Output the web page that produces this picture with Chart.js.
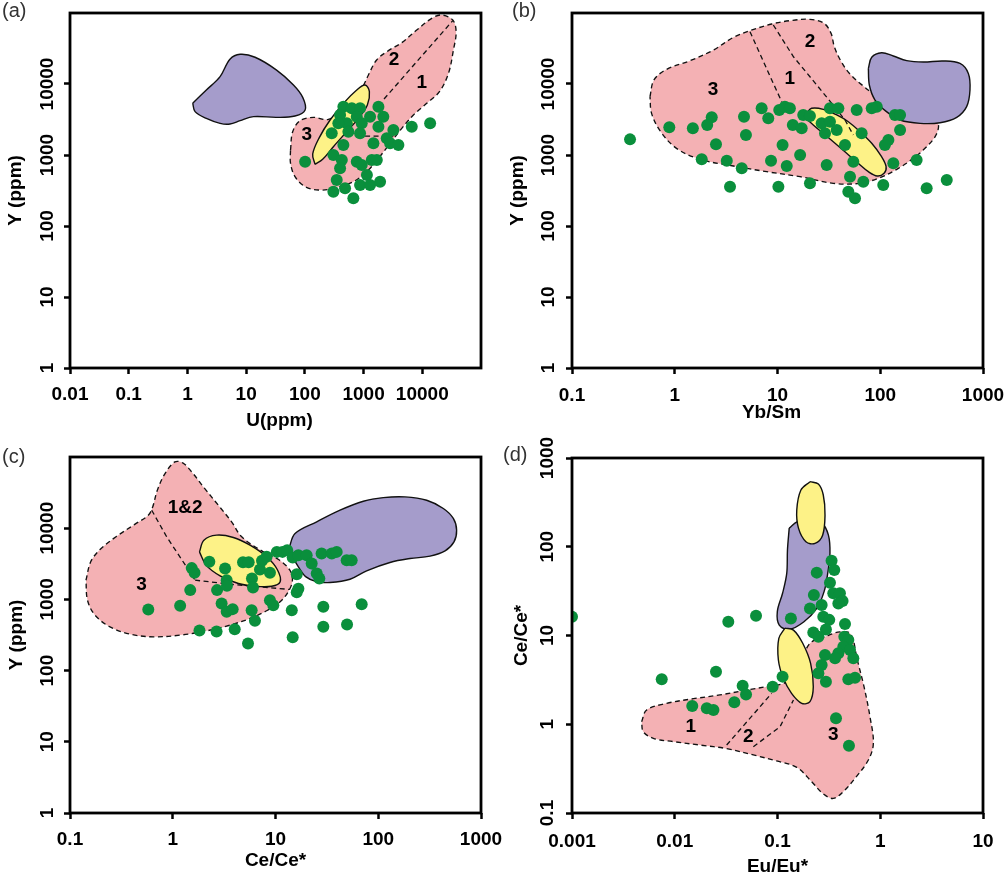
<!DOCTYPE html>
<html><head><meta charset="utf-8">
<script src="https://cdn.jsdelivr.net/npm/chart.js@4.4.1/dist/chart.umd.min.js"></script>
<style>
html,body{margin:0;padding:0;background:#fff;}
#wrap{position:relative;width:1008px;height:876px;overflow:hidden;background:#fff;}
canvas{position:absolute;left:0;top:0;}
</style></head><body>
<div id="wrap">
<canvas id="ca" width="1008" height="876"></canvas>
<canvas id="cb" width="1008" height="876"></canvas>
<canvas id="cc" width="1008" height="876"></canvas>
<canvas id="cd" width="1008" height="876"></canvas>
</div>
<script>
// ---------- tick values and labels ----------
const ppmTicks = [1, 10, 100, 1000, 10000];
const ppmTickLabels = ['1', '10', '100', '1000', '10000'];
const aXTicks = [0.01, 0.1, 1, 10, 100, 1000, 10000];
const aXTickLabels = ['0.01', '0.1', '1', '10', '100', '1000', '10000'];
const ratioTicks = [0.1, 1, 10, 100, 1000];
const ratioTickLabels = ['0.1', '1', '10', '100', '1000'];
const dXTicks = [0.001, 0.01, 0.1, 1, 10];
const dXTickLabels = ['0.001', '0.01', '0.1', '1', '10'];

// ---------- panel (a): U vs Y ----------
const aU = [101,453,630,871,398,766,518,372,1790,2170,1290,1790,931,287,551,871,453,306,426,398,766,931,1380,1680,1470,2480,3220,2830,3920,6620,13600,1140,349,484,306,871,1290,1910,670];
const aY = [805,4790,4550,4550,3660,3460,2790,2790,4790,3460,3460,2500,2790,2020,2130,2020,1380,1000,850,650,805,723,850,850,1460,1720,2250,1460,1380,2500,2790,523,444,340,304,378,378,421,246];
const aFieldPurple = [[1.23,5370],[2.1,8230],[3.6,12700],[5.3,22300],[7.9,26200],[14.2,23800],[33,15700],[64,9690],[92,6490],[101,4300],[68,3540],[33,3390],[13.3,3470],[7.9,3050],[5.3,2730],[3.6,2790],[2.1,3280],[1.35,4080]];
const aFieldPink = [[57,1175],[62,2130],[83,3050],[140,3390],[252,3180],[516,4800],[931,8690],[1210,13400],[1670,21800],[2650,29500],[4470,38200],[8050,57600],[14500,84100],[21500,93700],[33000,79700],[37700,54600],[33900,30100],[27900,14100],[19600,7800],[11900,5340],[7060,3660],[4470,2370],[2830,1460],[1790,897],[1130,582],[671,421],[306,339],[170,321],[101,358],[68,495],[57,763]];
const aFieldYellow = [[149,739],[136,1033],[177,1774],[269,3110],[453,5340],[765,8230],[1060,9680],[1256,7800],[1160,5060],[817,3280],[516,2130],[306,1310],[201,869]];
const aDividerA = [[2230,6150],[33000,78000]];
const aDividerB = [[1060,1850],[3220,1850]];
const aRegionNames = ['3', '2', '1'];
const aRegionX = [108, 3310, 9790];
const aRegionY = [1910, 21800, 10400];

// ---------- panel (b): Yb/Sm vs Y ----------
const bYbSm = [0.367,0.885,1.50,2.29,2.07,2.52,1.83,3.21,4.49,3.45,4.72,4.93,7.01,8.13,10.4,11.8,13.2,14.1,11.2,8.65,12.3,10.2,17.8,20.7,17.2,32.4,39.1,59.0,26.9,32.4,29.0,37.7,65.9,45.4,92.5,82.6,139,156,156,120,111,16.6,30.1,54.7,134,226,50.8,68.4,107,20.7,48.9,56.8,283,444];
const bY = [1660,2460,2380,3400,2650,1415,870,831,650,358,3460,1910,4550,3290,4300,4790,4550,2650,1380,831,700,358,3660,3540,2380,4550,4550,4300,2790,2940,2020,2250,2020,1380,4790,4550,3660,3660,2250,1630,1380,1000,723,805,764,850,495,421,378,399,304,246,340,444];
const bFieldPink = [[0.574,6630],[0.628,11400],[0.834,16100],[1.41,21300],[2.38,30100],[3.72,45400],[5.39,56400],[8.77,70000],[13.2,78000],[20.7,81400],[28.4,71500],[33.2,51700],[35.7,33600],[41.2,21300],[50.8,13800],[68.4,9370],[92.2,6780],[156,4540],[305,3660],[367,2730],[349,1910],[283,1310],[210,897],[145,629],[99.5,480],[63.5,399],[34.9,399],[16.6,495],[7.85,582],[3.72,700],[1.76,869],[1.04,1240],[0.73,2130],[0.595,3860]];
const bFieldPurple = [[76.6,16600],[82.6,23800],[103,27600],[134,24800],[181,21300],[262,20400],[411,21100],[597,19500],[720,14100],[747,8230],[693,4800],[555,3390],[382,2850],[244,2790],[156,3110],[115,4080],[88.9,5950],[78.3,9680]];
const bFieldYellow = [[19.2,3870],[21.5,4550],[27.9,4400],[37.7,3660],[48.9,2940],[63.5,2130],[82.6,1460],[103,946],[114,684],[109,552],[93.5,506],[76.6,582],[61.1,764],[47.1,1057],[36.3,1460],[27.9,2020],[22.3,2650],[19.2,3290]];
const bDividerA = [[5.40,54600],[8.79,11400],[11.0,5630]];
const bDividerB = [[9.10,67800],[14.3,24200],[24.1,9680],[33.7,5340],[45.4,3110],[54.7,1910]];
const bRegionNames = ['3', '1', '2'];
const bRegionX = [2.36, 13.2, 20.7];
const bRegionY = [8230, 12000, 39400];

// ---------- panel (c): Ce/Ce* vs Y ----------
const cCe = [0.578,1.18,1.48,1.53,1.63,2.27,1.82,2.70,2.67,2.99,3.35,3.83,4.01,3.23,3.35,3.37,4.83,5.48,5.90,6.04,5.86,6.31,5.40,7.06,7.39,8.20,8.83,8.83,9.52,10.3,11.7,13.0,14.4,14.7,14.7,16.7,16.1,16.7,16.1,20.1,22.5,25.2,26.7,28.1,29.2,29.2,35.3,39.4,49.3,55.1,49.7,69.0];
const cY = [722,813,1350,2750,2360,3370,366,1350,355,877,670,730,382,2720,1860,1550,3330,3330,1970,1470,706,500,241,2630,3480,3960,2360,976,830,4650,4650,4910,706,295,3880,4180,2260,1410,1260,4180,3190,2310,1970,4410,787,412,4410,4650,3550,3550,444,858];
const cFieldPink = [[0.143,1860],[0.159,3370],[0.196,5020],[0.285,7720],[0.430,11400],[0.578,15200],[0.638,19900],[0.708,34200],[0.841,58500],[1.05,85300],[1.25,82600],[1.53,61800],[2.01,37200],[2.78,21000],[3.74,12300],[4.69,7560],[7.62,4650],[10.7,3630],[13.8,2570],[14.6,1820],[13.3,1280],[11.1,925],[8.20,692],[5.65,540],[3.61,435],[2.14,362],[1.18,315],[0.647,298],[0.384,325],[0.245,412],[0.175,601],[0.148,976]];
const cFieldYellow = [[1.82,4650],[2.01,6790],[2.67,7980],[3.89,7400],[5.65,5770],[8.20,3960],[10.4,2630],[11.1,1770],[9.18,1530],[6.31,1530],[4.35,1670],[2.89,2140],[2.11,3030]];
const cFieldPurple = [[13.6,5350],[15.5,8420],[25.2,12300],[42.5,17900],[71.6,23900],[112,26900],[182,27500],[296,24700],[430,18900],[538,13700],[579,9370],[546,6430],[447,4810],[319,4050],[204,3750],[130,3300],[77.1,2520],[53.1,1920],[33.9,1730],[25.2,1770],[19.8,2070],[16.7,2870],[14.7,3960]];
const cDividerA = [[0.624,17900],[0.873,7560],[1.36,2870],[1.65,1860]];
const cDividerB = [[1.65,1860],[3.89,1620],[13.8,1380]];
const cRegionNames = ['1&2', '3'];
const cRegionX = [1.32, 0.498];
const cRegionY = [19500, 1585];

// ---------- panel (d): Eu/Eu* vs Ce/Ce* ----------
const dEu = [0.001,0.00747,0.0148,0.0205,0.0238,0.0252,0.0332,0.0380,0.0458,0.0494,0.0618,0.0897,0.112,0.135,0.241,0.226,0.207,0.336,0.357,0.324,0.349,0.405,0.430,0.391,0.269,0.279,0.319,0.296,0.223,0.250,0.454,0.447,0.489,0.437,0.391,0.508,0.547,0.363,0.290,0.269,0.250,0.296,0.489,0.568,0.371,0.496];
const dCe = [16.3,3.21,1.61,1.51,1.45,3.91,14.3,1.77,2.72,2.17,16.7,2.65,3.44,15.5,51.1,28.6,20.2,69.7,54.7,39.3,29.9,29.9,24.5,23.0,22.1,16.3,15.0,11.7,10.8,9.70,13.5,9.70,8.89,7.48,6.30,6.87,5.53,5.53,6.03,4.66,3.75,3.02,3.21,3.35,1.17,0.574];
const dFieldPink = [[0.00476,1.07],[0.00533,1.45],[0.00834,1.72],[0.0152,1.94],[0.0275,2.14],[0.0501,2.43],[0.0845,2.70],[0.123,3.02],[0.166,4.85],[0.207,8.17],[0.290,9.70],[0.405,11.0],[0.515,10.4],[0.598,5.30],[0.695,2.65],[0.794,1.22],[0.857,0.609],[0.766,0.395],[0.568,0.246],[0.437,0.174],[0.349,0.146],[0.279,0.164],[0.215,0.225],[0.154,0.327],[0.0982,0.386],[0.0582,0.451],[0.0320,0.531],[0.0176,0.583],[0.00968,0.637],[0.00619,0.694],[0.00494,0.824]];
const dFieldYellowTop = [[0.207,541],[0.169,436],[0.154,259],[0.160,162],[0.189,114],[0.232,109],[0.275,135],[0.290,228],[0.279,383],[0.250,509]];
const dFieldYellowLow = [[0.118,12.1],[0.103,9.29],[0.102,5.30],[0.114,3.29],[0.137,2.23],[0.172,1.72],[0.207,1.80],[0.223,2.65],[0.210,4.85],[0.176,8.17],[0.143,11.5]];
const dFieldPurple = [[0.130,162],[0.156,192],[0.207,204],[0.269,187],[0.313,135],[0.324,84.3],[0.308,50.1],[0.284,31.2],[0.241,20.2],[0.181,14.3],[0.130,11.7],[0.104,13.1],[0.0996,18.6],[0.112,29.9],[0.123,50.1],[0.125,91.8]];
const dDividerA = [[0.0320,0.583],[0.0877,2.23]];
const dDividerB = [[0.0582,0.558],[0.106,0.940],[0.143,1.88]];
const dRegionNames = ['1', '2', '3'];
const dRegionX = [0.0143, 0.0520, 0.349];
const dRegionY = [0.94, 0.724, 0.757];

// ---------- styling ----------
const PINK = '#f4b1b4', PURPLE = '#a59ccb', YELLOW = '#fdf287', GREEN = '#0a8f3c';
const FONT = '"Liberation Sans", Arial, Helvetica, sans-serif';
Chart.defaults.font.family = FONT;

function dots(xs, ys, clip) {
  return { data: xs.map((x, i) => ({ x: x, y: ys[i] })), showLine: false,
    pointRadius: 6, pointHoverRadius: 6, pointBackgroundColor: GREEN, backgroundColor: GREEN,
    pointBorderWidth: 0, borderWidth: 0, clip: clip };
}
function field(pts, color, dashed) {
  const d = pts.map(p => ({ x: p[0], y: p[1] }));
  d.push({ x: pts[0][0], y: pts[0][1] });
  return { data: d, showLine: true, fill: 'shape', backgroundColor: color,
    borderColor: '#111', borderWidth: dashed ? 1.35 : 1.4, borderDash: dashed ? [5, 3.5] : [],
    pointRadius: 0, pointHoverRadius: 0, tension: 0.35 };
}
function divider(pts) {
  return { data: pts.map(p => ({ x: p[0], y: p[1] })), showLine: true, fill: false,
    borderColor: '#111', borderWidth: 1.3, borderDash: [5, 3.5],
    pointRadius: 0, pointHoverRadius: 0, tension: 0 };
}
function logAxis(min, max, ticks, isX) {
  return {
    type: 'logarithmic', min: min, max: max,
    afterBuildTicks: s => { s.ticks = ticks.map(v => ({ value: v })); },
    afterFit: s => { if (isX) s.height = 10; else s.width = 10; },
    ticks: { display: false },
    grid: { display: true, drawOnChartArea: false, drawTicks: true, tickLength: 6, tickWidth: 2.5, tickColor: '#000', color: '#000' },
    border: { display: false },
    title: { display: false }
  };
}
function deco(cfg) {
  return {
    id: 'deco',
    afterDraw(chart) {
      const ctx = chart.ctx, xs = chart.scales.x, ys = chart.scales.y, a = chart.chartArea;
      ctx.save();
      ctx.lineWidth = 2.8; ctx.strokeStyle = '#000';
      ctx.strokeRect(a.left, a.top, a.right - a.left, a.bottom - a.top);
      ctx.fillStyle = '#000';
      ctx.font = 'bold 19px ' + FONT;
      ctx.textAlign = 'center'; ctx.textBaseline = 'alphabetic';
      cfg.xTicks.forEach((v, i) => ctx.fillText(cfg.xLabels[i], xs.getPixelForValue(v), a.bottom + cfg.xLabelOff));
      cfg.yTicks.forEach((v, i) => {
        ctx.save(); ctx.translate(a.left - cfg.yLabelOff, ys.getPixelForValue(v)); ctx.rotate(-Math.PI / 2);
        ctx.fillText(cfg.yLabels[i], 0, 0); ctx.restore();
      });
      ctx.fillText(cfg.xTitle, (a.left + a.right) / 2 + cfg.xTitleDx, a.bottom + cfg.xTitleOff);
      ctx.save(); ctx.translate(a.left - cfg.yTitleOff, (a.top + a.bottom) / 2); ctx.rotate(-Math.PI / 2);
      ctx.fillText(cfg.yTitle, 0, 0); ctx.restore();
      ctx.textBaseline = 'middle';
      cfg.names.forEach((t, i) => ctx.fillText(t, xs.getPixelForValue(cfg.rx[i]), ys.getPixelForValue(cfg.ry[i])));
      ctx.font = '20px ' + FONT; ctx.fillStyle = '#333'; ctx.textAlign = 'left'; ctx.textBaseline = 'alphabetic';
      ctx.fillText(cfg.letter, cfg.letterX, cfg.letterY);
      ctx.restore();
    }
  };
}
function makeChart(id, area, datasets, xAxis, yAxis, cfg) {
  const W = 1008, H = 876;
  new Chart(document.getElementById(id), {
    type: 'scatter',
    data: { datasets: datasets },
    options: {
      responsive: false, animation: false, events: [],
      layout: { padding: { left: area.left - 10, top: area.top, right: W - area.right, bottom: H - area.bottom - 10 } },
      scales: { x: xAxis, y: yAxis },
      plugins: { legend: { display: false }, tooltip: { enabled: false } }
    },
    plugins: [deco(cfg)]
  });
}

// (a)
makeChart('ca', { left: 70, top: 13, right: 481, bottom: 368 },
  [dots(aU, aY), divider(aDividerA), divider(aDividerB), field(aFieldYellow, YELLOW, false),
   field(aFieldPurple, PURPLE, false), field(aFieldPink, PINK, true)],
  logAxis(0.01, 100000, aXTicks, true), logAxis(1, 100000, ppmTicks, false),
  { xTicks: aXTicks, xLabels: aXTickLabels, yTicks: ppmTicks, yLabels: ppmTickLabels,
    xLabelOff: 32, yLabelOff: 17, xTitle: 'U(ppm)', xTitleDx: 4, xTitleOff: 58, yTitle: 'Y (ppm)', yTitleOff: 49,
    names: aRegionNames, rx: aRegionX, ry: aRegionY, letter: '(a)', letterX: 2, letterY: 17 });

// (b)
makeChart('cb', { left: 572, top: 13, right: 983, bottom: 368 },
  [dots(bYbSm, bY), divider(bDividerA), divider(bDividerB), field(bFieldYellow, YELLOW, false),
   field(bFieldPurple, PURPLE, false), field(bFieldPink, PINK, true)],
  logAxis(0.1, 1000, ratioTicks, true), logAxis(1, 100000, ppmTicks, false),
  { xTicks: ratioTicks, xLabels: ratioTickLabels, yTicks: ppmTicks, yLabels: ppmTickLabels,
    xLabelOff: 33, yLabelOff: 18, xTitle: 'Yb/Sm', xTitleDx: -6, xTitleOff: 50, yTitle: 'Y (ppm)', yTitleOff: 49,
    names: bRegionNames, rx: bRegionX, ry: bRegionY, letter: '(b)', letterX: 512, letterY: 17 });

// (c)
makeChart('cc', { left: 70, top: 457, right: 481, bottom: 813 },
  [dots(cCe, cY), divider(cDividerA), divider(cDividerB), field(cFieldYellow, YELLOW, false),
   field(cFieldPurple, PURPLE, false), field(cFieldPink, PINK, true)],
  logAxis(0.1, 1000, ratioTicks, true), logAxis(1, 100000, ppmTicks, false),
  { xTicks: ratioTicks, xLabels: ratioTickLabels, yTicks: ppmTicks, yLabels: ppmTickLabels,
    xLabelOff: 32, yLabelOff: 17, xTitle: 'Ce/Ce*', xTitleDx: 0, xTitleOff: 53, yTitle: 'Y (ppm)', yTitleOff: 48,
    names: cRegionNames, rx: cRegionX, ry: cRegionY, letter: '(c)', letterX: 2, letterY: 463 });

// (d)
makeChart('cd', { left: 572, top: 458, right: 983, bottom: 813 },
  [dots(dEu, dCe, 0), divider(dDividerA), divider(dDividerB), field(dFieldYellowTop, YELLOW, false),
   field(dFieldYellowLow, YELLOW, false), field(dFieldPurple, PURPLE, false), field(dFieldPink, PINK, true)],
  logAxis(0.001, 10, dXTicks, true), logAxis(0.1, 1000, ratioTicks, false),
  { xTicks: dXTicks, xLabels: dXTickLabels, yTicks: ratioTicks, yLabels: ratioTickLabels,
    xLabelOff: 33.5, yLabelOff: 19, xTitle: 'Eu/Eu*', xTitleDx: 0, xTitleOff: 58.5, yTitle: 'Ce/Ce*', yTitleOff: 45,
    names: dRegionNames, rx: dRegionX, ry: dRegionY, letter: '(d)', letterX: 503, letterY: 461 });
</script>
</body></html>
